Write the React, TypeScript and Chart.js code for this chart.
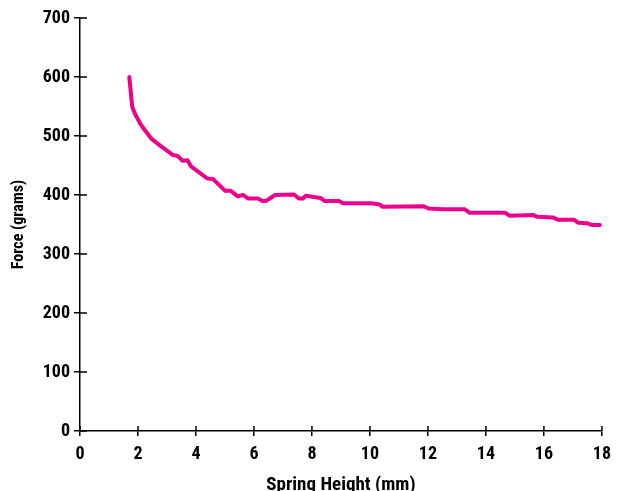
import React, { useEffect, useRef } from "react";
import { Chart, registerables } from "chart.js";

Chart.register(...registerables);

const springHeight = [
  1.7, 1.8, 1.89, 2.09, 2.22, 2.47, 2.81, 3.2, 3.37, 3.54, 3.71, 3.82, 4.39, 4.59,
  5.01, 5.2, 5.43, 5.63, 5.8, 6.14, 6.29, 6.42, 6.73, 7.38, 7.55, 7.69, 7.8, 8.01,
  8.29, 8.43, 8.93, 9.08, 10.04, 10.33, 10.44, 11.85, 12.02, 12.53, 13.26, 13.43,
  14.66, 14.81, 15.64, 15.78, 16.31, 16.48, 17.04, 17.18, 17.5, 17.67, 17.93,
];
const forceGrams = [
  600, 550, 538, 520, 511, 495, 482, 468, 466, 458, 459, 449, 428, 427,
  407, 407, 398, 400, 394, 394, 390, 390, 400, 401, 394, 394, 399, 397,
  395, 390, 390, 386, 386, 384, 380, 381, 377, 376, 376, 370,
  370, 365, 366, 363, 362, 358, 358, 353, 352, 349, 349,
];
const xTickValues = [0, 2, 4, 6, 8, 10, 12, 14, 16, 18];
const yTickValues = [0, 100, 200, 300, 400, 500, 600, 700];

const FONT = "Roboto, sans-serif";
const WEIGHT: any = "bold condensed";

const innerTicks = {
  id: "innerTicks",
  afterDraw(chart: any) {
    const ctx = chart.ctx;
    const xs = chart.scales.x;
    const ys = chart.scales.y;
    const area = chart.chartArea;
    ctx.save();
    ctx.strokeStyle = "#000";
    ctx.lineWidth = 1.5;
    ctx.beginPath();
    xs.ticks.forEach((t: any) => {
      const px = xs.getPixelForValue(t.value);
      ctx.moveTo(px, area.bottom);
      ctx.lineTo(px, area.bottom - 5);
    });
    ys.ticks.forEach((t: any) => {
      const py = ys.getPixelForValue(t.value);
      ctx.moveTo(area.left, py);
      ctx.lineTo(area.left + 7, py);
    });
    ctx.stroke();
    ctx.restore();
  },
};

export default function App() {
  const ref = useRef<HTMLCanvasElement | null>(null);
  useEffect(() => {
    if (!ref.current) return;
    const chart = new Chart(ref.current, {
      type: "line",
      data: {
        datasets: [
          {
            data: springHeight.map((x, i) => ({ x, y: forceGrams[i] })),
            borderColor: "#EC008C",
            borderWidth: 4,
            pointRadius: 0,
            fill: false,
            tension: 0,
            borderJoinStyle: "round",
            borderCapStyle: "round",
          },
        ],
      },
      options: {
        responsive: false,
        animation: false,
        devicePixelRatio: 1,
        layout: { padding: { top: 18, right: 8, left: 0, bottom: 0 } },
        plugins: { legend: { display: false }, tooltip: { enabled: false } },
        scales: {
          x: {
            type: "linear",
            min: 0,
            max: 18,
            afterBuildTicks: (s: any) => {
              s.ticks = xTickValues.map((v) => ({ value: v }));
            },
            afterFit: (s: any) => {
              s.height = 60;
            },
            ticks: {
              color: "#000",
              font: { family: FONT, size: 18, weight: WEIGHT },
              padding: 8,
              maxRotation: 0,
            },
            grid: {
              drawOnChartArea: false,
              drawTicks: true,
              tickLength: 5,
              color: "#000",
              lineWidth: 1.5,
            },
            border: { display: true, color: "#000", width: 1.5 },
            title: {
              display: true,
              text: "Spring Height (mm)",
              color: "#000",
              font: { family: FONT, size: 19, weight: WEIGHT, lineHeight: 0.65 },
              padding: { top: 0, bottom: 0 },
            },
          },
          y: {
            type: "linear",
            min: 0,
            max: 700,
            afterBuildTicks: (s: any) => {
              s.ticks = yTickValues.map((v) => ({ value: v }));
            },
            afterFit: (s: any) => {
              s.width = 80;
            },
            ticks: {
              color: "#000",
              font: { family: FONT, size: 18, weight: WEIGHT },
              padding: 4,
            },
            grid: {
              drawOnChartArea: false,
              drawTicks: true,
              tickLength: 6,
              color: "#000",
              lineWidth: 1.5,
            },
            border: { display: true, color: "#000", width: 1.5 },
            title: {
              display: true,
              text: "Force (grams)",
              color: "#000",
              font: { family: FONT, size: 16, weight: WEIGHT },
              padding: { top: 9, bottom: 0 },
            },
          },
        },
      },
      plugins: [innerTicks],
    });
    return () => chart.destroy();
  }, []);
  return (
    <div style={{ position: "absolute", left: 0, top: 0, width: 619, height: 491, background: "#fff" }}>
      <canvas ref={ref} width={619} height={491} style={{ display: "block" }} />
    </div>
  );
}
